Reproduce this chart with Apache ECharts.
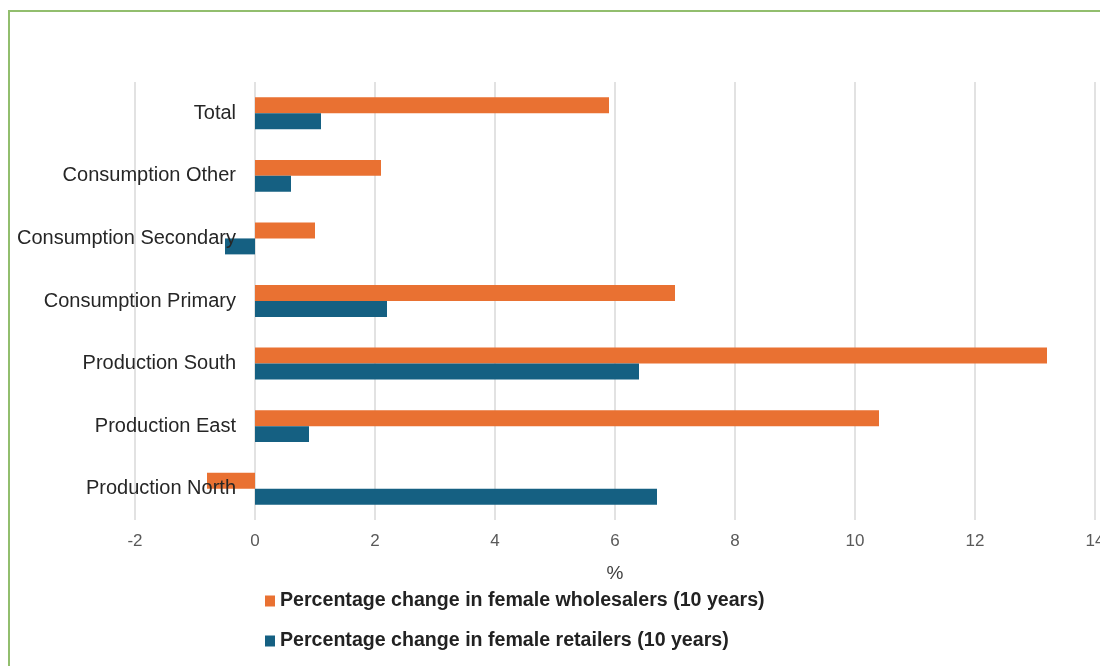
<!DOCTYPE html>
<html>
<head>
<meta charset="utf-8">
<script src="https://cdn.jsdelivr.net/npm/echarts@6/dist/echarts.min.js"></script>
<style>
html,body{margin:0;padding:0;background:#fff;}
#chart{width:1100px;height:666px;}
</style>
</head>
<body>
<div id="chart"></div>
<script>
// Categories listed bottom-to-top (ECharts category y-axis starts at the bottom)
const categories = ['Production North','Production East','Production South','Consumption Primary','Consumption Secondary','Consumption Other','Total'];
const wholesalers = [-0.8, 10.4, 13.2, 7.0, 1.0, 2.1, 5.9];
const retailers = [6.7, 0.9, 6.4, 2.2, -0.5, 0.6, 1.1];
const xTicks = {min: -2, max: 14, interval: 2};
const seriesNames = ['Percentage change in female wholesalers (10 years)', 'Percentage change in female retailers (10 years)'];

const chart = echarts.init(document.getElementById('chart'), null, {renderer: 'canvas'});
chart.setOption({
  animation: false,
  backgroundColor: '#ffffff',
  textStyle: {fontFamily: 'Liberation Sans, Arial, sans-serif'},
  graphic: [{
    type: 'rect', z: 100, silent: true,
    shape: {x: 9, y: 11, width: 1200, height: 800},
    style: {fill: 'none', stroke: '#92BE6E', lineWidth: 2}
  }],
  grid: {left: 135, right: 5, top: 82, bottom: 146, containLabel: false, outerBoundsMode: 'none'},
  legend: {
    orient: 'vertical', left: 260, top: 586, itemGap: 20,
    itemWidth: 10, itemHeight: 11, icon: 'rect',
    data: [seriesNames[0], seriesNames[1]],
    textStyle: {fontSize: 19.6, fontWeight: 'bold', color: '#222222'}
  },
  xAxis: {
    type: 'value', min: xTicks.min, max: xTicks.max, interval: xTicks.interval,
    name: '%', nameLocation: 'middle', nameGap: 44,
    nameTextStyle: {fontSize: 19, color: '#404040'},
    axisLine: {show: false}, axisTick: {show: false},
    axisLabel: {fontSize: 17, color: '#595959', margin: 13},
    splitLine: {show: true, lineStyle: {color: '#d9d9d9', width: 1.5}}
  },
  yAxis: {
    type: 'category', data: categories, z: 10, offset: -120,
    axisLine: {show: false, onZero: false},
    axisTick: {show: false},
    axisLabel: {fontSize: 20, color: '#262626', margin: 19},
    splitLine: {show: false}
  },
  series: [
    {
      name: seriesNames[0], type: 'bar', data: wholesalers,
      barGap: '0%', barCategoryGap: '49%',
      itemStyle: {color: '#E97132'}
    },
    {
      name: seriesNames[1], type: 'bar', data: retailers,
      barGap: '0%', barCategoryGap: '49%',
      itemStyle: {color: '#156082'}
    }
  ]
});
</script>
</body>
</html>
